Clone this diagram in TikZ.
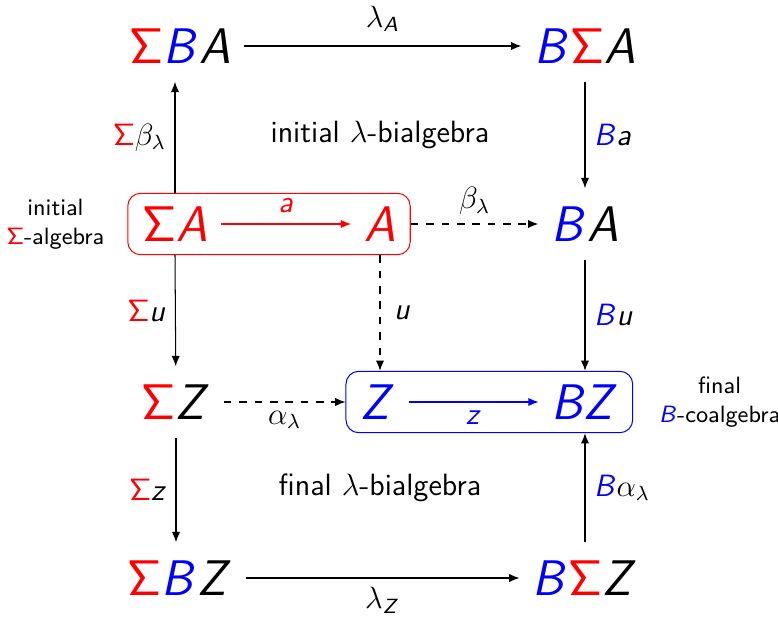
\RequirePackage{fix-cm}
\documentclass[tikz,border=0pt]{standalone}
\usetikzlibrary{arrows.meta,positioning,fit}
\DeclareMathAlphabet{\mathsfit}{OT1}{cmss}{m}{sl}
\newcommand{\SigR}{{\color{red}\mathsf{\Sigma}}}
\newcommand{\BeB}{{\color{blue}\mathsfit{B}}}
\tikzset{
  obj/.style={font=\fontsize{19.5}{23}\selectfont, inner xsep=5pt, inner ysep=7pt},
  lab/.style={font=\fontsize{12}{14}\selectfont\sffamily},
  side/.style={font=\fontsize{9.2}{11.5}\selectfont\sffamily, align=center},
  ar/.style={-{Latex[length=4pt,width=3.2pt]}},
  box/.style={draw, rounded corners=5pt, inner xsep=0.5pt, inner ysep=-2pt},
}
\begin{document}
\begin{tikzpicture}[x=0.0137cm,y=-0.0137cm]
  \useasboundingbox (0,0) rectangle (778,620);
  % objects
  \node[obj] (SBA) at (180,46) {$\SigR\BeB\mathsfit{A}$};
  \node[obj] (BSA) at (585,46) {$\BeB\SigR\mathsfit{A}$};
  \node[obj,red] (SA) at (175,224) {$\mathsf{\Sigma}\mathsfit{A}$};
  \node[obj,red] (A) at (380,224) {$\mathsfit{A}$};
  \node[obj] (BA) at (585,224) {$\BeB\mathsfit{A}$};
  \node[obj] (SZ) at (176,402) {$\SigR\mathsfit{Z}$};
  \node[obj,blue] (Z) at (378,402) {$\mathsfit{Z}$};
  \node[obj,blue] (BZ) at (585,402) {$\mathsfit{BZ}$};
  \node[obj] (SBZ) at (180,578) {$\SigR\BeB\mathsfit{Z}$};
  \node[obj] (BSZ) at (585,578) {$\BeB\SigR\mathsfit{Z}$};
  % initial algebra and final coalgebra
  \node[box,red,fit=(SA)(A)] (alg) {};
  \node[box,blue,fit=(Z)(BZ)] (coalg) {};
  \node[side,left=0.19cm of alg] (algtxt) {initial\\$\SigR$-algebra};
  \node[side,right=0.23cm of coalg] (coalgtxt) {final\\$\BeB$-coalgebra};
  % bialgebras
  \node[lab] (ibi) at (380,135) {initial $\lambda$-bialgebra};
  \node[lab] (fbi) at (380,488) {final $\lambda$-bialgebra};
  % arrows
  \draw[ar] (SBA) -- node[lab,above=2pt] {$\lambda_{\mathsfit{A}}$} (BSA);
  \draw[ar] (alg.north -| SA) -- node[lab,left] {$\SigR\beta_\lambda$} (SA |- SBA.south);
  \draw[ar] (BSA) -- node[lab,right] {$\BeB\mathsfit{a}$} (BA);
  \draw[ar,red] (SA) -- node[lab,above=1pt] {$\mathsfit{a}$} (A);
  \draw[ar,dashed] (A -| alg.east) -- node[lab,above] {$\beta_\lambda$} (BA);
  \draw[ar] (alg.south -| SA) -- node[lab,left] {$\SigR\mathsfit{u}$} (SZ);
  \draw[ar,dashed] (alg.south -| A) -- node[lab,right=2pt] {$\mathsfit{u}$} (coalg.north -| A);
  \draw[ar] (BA) -- node[lab,right] {$\BeB\mathsfit{u}$} (coalg.north -| BA);
  \draw[ar,dashed] (SZ) -- node[lab,below] {$\alpha_\lambda$} (SZ -| coalg.west);
  \draw[ar,blue] (Z) -- node[lab,below] {$\mathsfit{z}$} (BZ);
  \draw[ar] (SZ) -- node[lab,left] {$\SigR\mathsfit{z}$} (SZ |- SBZ.north);
  \draw[ar] (BSZ) -- node[lab,right] {$\BeB\alpha_\lambda$} (coalg.south -| BSZ);
  \draw[ar] (SBZ) -- node[lab,below=0pt] {$\lambda_{\mathsfit{Z}}$} (BSZ);
\end{tikzpicture}
\end{document}
